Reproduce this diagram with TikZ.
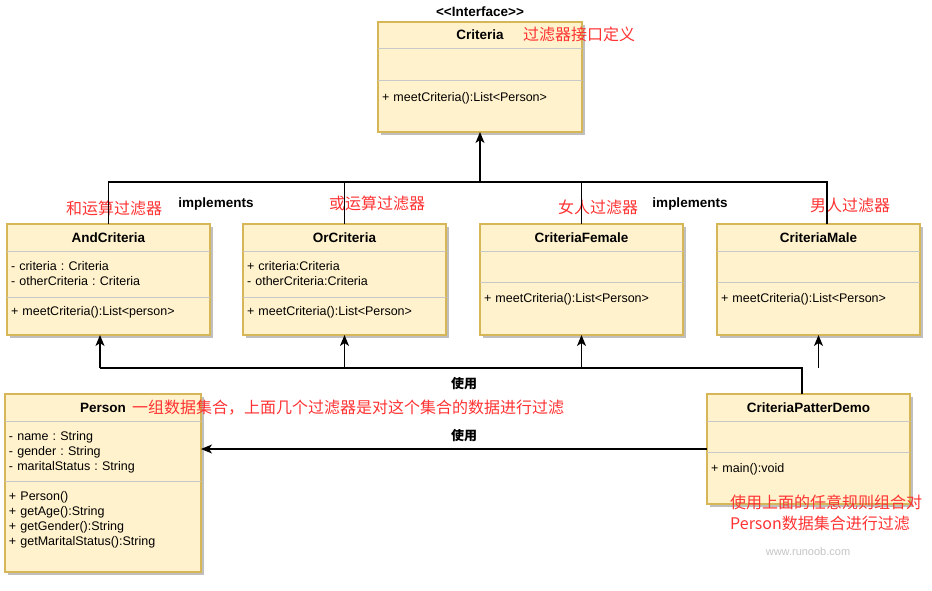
\documentclass[tikz,border=0pt]{standalone}
\usepackage{fontspec}
\setmainfont{Liberation Sans}
\newfontfamily\cjk{Noto Sans CJK SC}
\usepackage{xcolor}
\usepackage{tikz}
\usetikzlibrary{positioning, arrows.meta, shadows, fit, backgrounds}
\frenchspacing

\definecolor{classfill}{HTML}{FFF2CC}
\definecolor{classedge}{HTML}{D6B656}
\definecolor{splitgray}{HTML}{C8C8C8}
\definecolor{notered}{HTML}{FF3333}
\definecolor{webgray}{HTML}{C4C4C4}

\begin{document}
\begin{tikzpicture}[
        x=1pt, y=-1pt,
        font=\fontsize{12.5}{15.3}\selectfont,
        % Cabecera de cada clase (nombre)
        classhead/.style={
            rectangle,
            minimum width=203pt,
            minimum height=27pt,
            inner sep=0pt,
            outer sep=0pt,
            font=\fontsize{13.5}{15}\selectfont\bfseries
        },
        % Compartimentos: atributos y metodos
        classpart/.style={
            rectangle,
            text width=195pt,
            inner xsep=4pt,
            inner ysep=0pt,
            outer sep=0pt,
            align=left
        },
        % Marco de la clase, con sombra
        classframe/.style={
            draw=classedge,
            line width=1.5pt,
            fill=classfill,
            inner sep=0pt,
            drop shadow={shadow xshift=2.5pt, shadow yshift=-2.5pt, opacity=0.25, fill=black}
        },
        splitline/.style={draw=splitgray, line width=1pt},
        % Notas en rojo y etiquetas de las flechas
        remark/.style={text=notered, inner sep=0pt, font=\cjk\fontsize{16}{21}\selectfont},
        tag/.style={inner sep=0pt, font=\fontsize{13.5}{15}\selectfont\bfseries},
        wire/.style={draw=black, line width=1.4pt},
        wirearrow/.style={wire, -{Stealth[length=11pt, width=9pt, inset=3pt]}}
    ]

        \useasboundingbox (0,0) rectangle (932,590);

        % 1. Interfaz Criteria
        \node[tag] (stereo) at (480,12) {<{}<Interface>{}>};
        \node[classhead, minimum width=204pt, minimum height=26pt, anchor=north west] (criteria-head) at (378,22) {Criteria};
        \node[classpart, text width=196pt, minimum height=32pt, below=0pt of criteria-head] (criteria-attr) {};
        \node[classpart, text width=196pt, text height=21pt, text depth=31pt, below=0pt of criteria-attr] (criteria-ops) {+ meetCriteria():List<Person>};
        \node[remark, anchor=west] (criteria-note) at (523,34) {过滤器接口定义};

        % 2. Clases que implementan la interfaz
        \node[classhead, anchor=north west] (and-head) at (7,224) {AndCriteria};
        \node[classpart, text height=19pt, text depth=27pt, below=0pt of and-head] (and-attr) {- criteria : Criteria\\- otherCriteria : Criteria};
        \node[classpart, text height=18pt, text depth=20pt, below=0pt of and-attr] (and-ops) {+ meetCriteria():List<person>};

        \node[classhead, right=33pt of and-head] (or-head) {OrCriteria};
        \node[classpart, text height=19pt, text depth=27pt, below=0pt of or-head] (or-attr) {+ criteria:Criteria\\- otherCriteria:Criteria};
        \node[classpart, text height=18pt, text depth=20pt, below=0pt of or-attr] (or-ops) {+ meetCriteria():List<Person>};

        \node[classhead, right=34pt of or-head] (female-head) {CriteriaFemale};
        \node[classpart, minimum height=31pt, below=0pt of female-head] (female-attr) {};
        \node[classpart, text height=20pt, text depth=33pt, below=0pt of female-attr] (female-ops) {+ meetCriteria():List<Person>};

        \node[classhead, right=34pt of female-head] (male-head) {CriteriaMale};
        \node[classpart, minimum height=31pt, below=0pt of male-head] (male-attr) {};
        \node[classpart, text height=20pt, text depth=33pt, below=0pt of male-attr] (male-ops) {+ meetCriteria():List<Person>};

        \node[remark] (and-note) at (114,208) {和运算过滤器};
        \node[tag] (impl-left) at (216,204) {implements};
        \node[remark] (or-note) at (377,203) {或运算过滤器};
        \node[remark] (female-note) at (598,207) {女人过滤器};
        \node[tag] (impl-right) at (690,204) {implements};
        \node[remark] (male-note) at (850,205) {男人过滤器};

        % 3. Clase Person (datos)
        \node[classhead, minimum width=196pt, anchor=north west] (person-head) at (5,394) {Person};
        \node[classpart, text width=188pt, text height=19pt, text depth=41pt, below=0pt of person-head] (person-attr) {- name : String\\- gender : String\\- maritalStatus : String};
        \node[classpart, text width=188pt, text height=19pt, text depth=72pt, below=0pt of person-attr] (person-ops) {+ Person()\\+ getAge():String\\+ getGender():String\\+ getMaritalStatus():String};
        \node[remark, anchor=west] (person-note) at (132,408) {一组数据集合，上面几个过滤器是对这个集合的数据进行过滤};

        % 4. Clase de demostracion
        \node[classhead, anchor=north west] (demo-head) at (707,394) {CriteriaPatterDemo};
        \node[classpart, minimum height=31pt, below=0pt of demo-head] (demo-attr) {};
        \node[classpart, text height=20pt, text depth=32pt, below=0pt of demo-attr] (demo-ops) {+ main():void};

        % Marcos y separadores
        \begin{scope}[on background layer]
            \foreach \c in {criteria, and, or, female, male, person, demo}
                \node[classframe, fit=(\c-head)(\c-ops)] (\c) {};
        \end{scope}
        \foreach \c in {criteria, and, or, female, male, person, demo}{
            \draw[splitline] (\c-attr.north west) -- (\c-attr.north east);
            \draw[splitline] (\c-ops.north west) -- (\c-ops.north east);
        }

        \node[remark, align=left, anchor=west] (demo-note) at (730,512.5) {使用上面的任意规则组合对\\Person数据集合进行过滤};
        \node[text=webgray, font=\fontsize{11}{13}\selectfont] (web) at (808,552) {www.runoob.com};

        % Flechas: implementacion de la interfaz
        \coordinate (impl) at (480,182);
        \draw[wire] (and-head.north) |- (impl) -| ([xshift=8.5pt]male-head.north);
        \draw[wire] (or-head.north) -- (or-head.north |- impl);
        \draw[wire] (female-head.north) -- (female-head.north |- impl);
        \draw[wirearrow] (impl) -- (criteria-ops.south);

        % Flechas: uso desde la demo
        \coordinate (use-r) at (802,368);
        \coordinate (use-l) at (100,368);
        \draw[wire] (use-r |- demo-head.north) -- (use-r) -- (use-l);
        \draw[wirearrow] (use-l) -- (use-l |- and-ops.south);
        \foreach \c in {or, female, male}
            \draw[wirearrow] (\c-ops.south |- use-l) -- (\c-ops.south);
        \node[tag, font=\cjk\fontsize{13}{15}\selectfont\bfseries] (use-top) at (464,384) {使用};

        \draw[wirearrow] ([yshift=-12.5pt]demo-attr.west) -- ([yshift=-12.5pt]demo-attr.west -| person-attr.east);
        \node[tag, font=\cjk\fontsize{13}{15}\selectfont\bfseries] (use-mid) at (464,436) {使用};

    \end{tikzpicture}
\end{document}
